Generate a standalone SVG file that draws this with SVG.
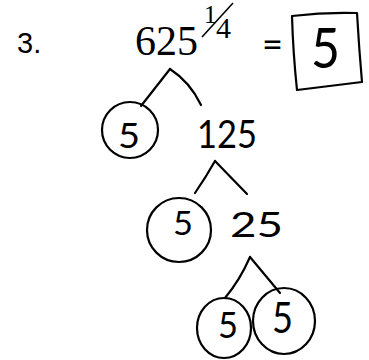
<svg xmlns="http://www.w3.org/2000/svg" width="369" height="360" viewBox="0 0 369 360">
<style>
.hand{font-family:Lato,"Liberation Sans",Arial,sans-serif;font-weight:400;fill:#000}
.serif{font-family:"Liberation Serif","Times New Roman",serif;fill:#000}
.ink{fill:none;stroke:#000;stroke-width:2.2;stroke-linecap:round;stroke-linejoin:round}
</style>
<rect width="369" height="360" fill="#fff"/>
<g id="label">
<text x="17" y="53" font-size="29" font-family="Liberation Sans, Arial, sans-serif">3.</text>
</g>
<g id="expr">
<text class="serif" x="135" y="55" font-size="42">625</text>
<text class="serif" x="204" y="23" font-size="25">1</text>
<line x1="233" y1="3" x2="202" y2="37" stroke="#000" stroke-width="1.6"/>
<text class="serif" x="216" y="38" font-size="30">4</text>
</g>
<g id="equals">
<text class="hand" x="262" y="57" font-size="36" textLength="21" lengthAdjust="spacingAndGlyphs">=</text>
</g>
<g id="answer">
<path class="ink" d="M292 16 Q325 12 357 13 Q359 48 362 82 Q330 86 297 90 Q293 52 292 16 Z" stroke-width="2.6"/>
<text class="hand" x="311" y="68" font-size="56" textLength="29" lengthAdjust="spacingAndGlyphs">5</text>
</g>
<g id="f1">
<ellipse class="ink" cx="130" cy="130" rx="28" ry="28"/>
<text class="hand" x="118" y="148" font-size="35" textLength="22" lengthAdjust="spacingAndGlyphs">5</text>
</g>
<g id="n125">
<text class="hand" x="197" y="148" font-size="39" textLength="60" lengthAdjust="spacingAndGlyphs">125</text>
</g>
<g id="f2">
<ellipse class="ink" cx="179" cy="230" rx="32" ry="32"/>
<text class="hand" x="173" y="235" font-size="32" textLength="20" lengthAdjust="spacingAndGlyphs">5</text>
</g>
<g id="n25">
<text class="hand" x="230" y="237" font-size="34" textLength="53" lengthAdjust="spacingAndGlyphs">25</text>
</g>
<g id="f3">
<ellipse class="ink" cx="224" cy="328" rx="27" ry="30"/>
<text class="hand" x="218" y="338" font-size="36" textLength="20" lengthAdjust="spacingAndGlyphs">5</text>
</g>
<g id="f4">
<ellipse class="ink" cx="284" cy="321" rx="31" ry="33"/>
<text class="hand" x="272" y="333" font-size="42" textLength="21" lengthAdjust="spacingAndGlyphs">5</text>
</g>
<g id="connectors">
<path class="ink" d="M170 69 L141 106"/>
<path class="ink" d="M170 69 Q190 82 201 105"/>
<path class="ink" d="M215 161 Q206 177 195 193"/>
<path class="ink" d="M215 161 L247 194"/>
<path class="ink" d="M250 257 Q240 280 225 298"/>
<path class="ink" d="M250 257 L280 293"/>
</g>
</svg>
